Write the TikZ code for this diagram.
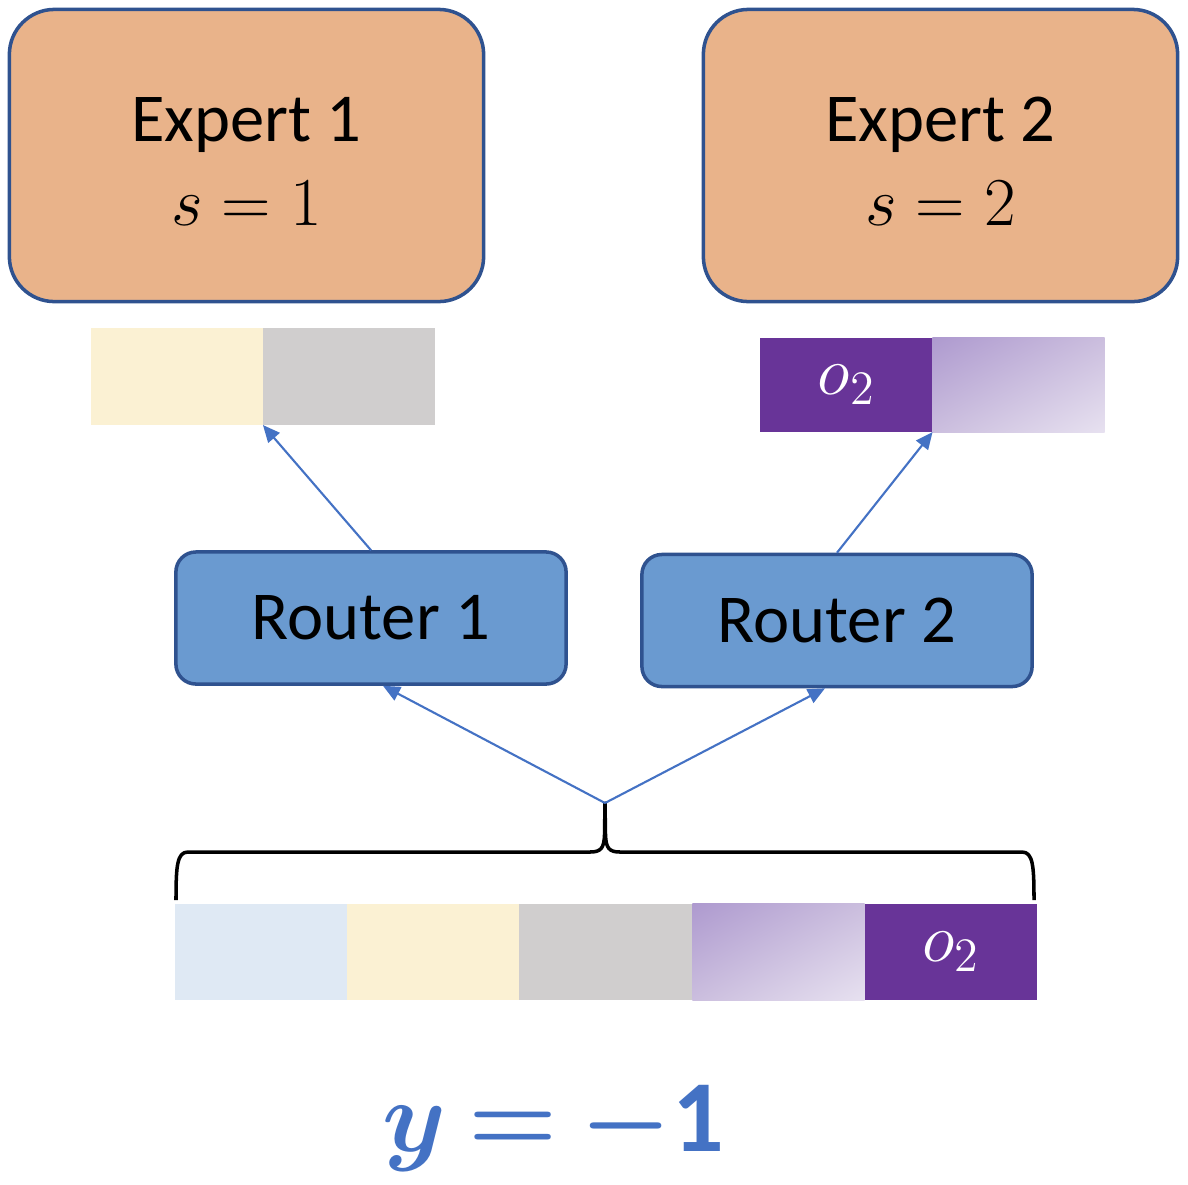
\documentclass[tikz,border=0pt]{standalone}
\usepackage{fix-cm}
\usepackage{amsmath}
\usepackage{fontspec}
\setmainfont{Carlito}
\usetikzlibrary{arrows.meta,positioning,shadings}
\definecolor{expertfill}{RGB}{233,179,138}
\definecolor{edgeblue}{RGB}{47,82,143}
\definecolor{routerfill}{RGB}{106,154,208}
\definecolor{linkblue}{RGB}{68,114,196}
\definecolor{tokblue}{RGB}{223,233,244}
\definecolor{tokcream}{RGB}{251,241,211}
\definecolor{tokgray}{RGB}{208,206,206}
\definecolor{tokpurple}{RGB}{104,52,152}
\definecolor{fadedark}{RGB}{174,154,207}
\definecolor{fademid}{RGB}{203,190,222}
\definecolor{fadelight}{RGB}{231,225,240}

\begin{document}
\begin{tikzpicture}[
            x=0.01cm, y=-0.01cm,
            expert/.style={draw=edgeblue, line width=1pt, fill=expertfill, rounded corners=0.45cm,
                minimum width=4.74cm, minimum height=2.92cm, align=center,
                font=\fontsize{19.5}{22.8}\selectfont},
            router/.style={draw=edgeblue, line width=1pt, fill=routerfill, rounded corners=0.2cm,
                minimum width=3.9cm, minimum height=1.32cm, font=\fontsize{19.5}{23}\selectfont},
            cell/.style={minimum width=1.72cm, minimum height=0.96cm, inner sep=0pt, outer sep=0pt,
                font=\fontsize{19.5}{23}\selectfont},
            fade/.style={cell, shade, upper left=fadedark, upper right=fademid,
                lower left=fademid, lower right=fadelight},
            link/.style={draw=linkblue, line width=0.6pt, -{Triangle[length=0.17cm,width=0.15cm]}},
            result/.style={text=linkblue, font=\fontsize{29}{35}\selectfont}
        ]
            \useasboundingbox (0,0) rectangle (1188,1184);

            \node[expert] (e1) at (246.5,155.5) {\rule{0pt}{0.56cm}Expert 1\\[1pt]$s = 1$};
            \node[expert] (e2) at (940.5,155.5) {\rule{0pt}{0.56cm}Expert 2\\[1pt]$s = 2$};

            \node[cell,fill=tokcream,minimum height=0.97cm] (e1a) at (177,376.5) {};
            \node[cell,fill=tokgray,minimum height=0.97cm]  (e1b) at (349,376.5) {};
            \node[cell,fill=tokpurple,text=white,minimum height=0.94cm] (e2a) at (846.5,385) {$o_2$};
            \node[fade,minimum height=0.94cm] (e2b) at (1018.5,385) {};

            \node[router] (r1) at (371,618) {Router 1};
            \node[router] (r2) at (837,620.5) {Router 2};

            \node[cell,fill=tokblue]   (t1) at (261,952) {};
            \node[cell,fill=tokcream]  (t2) at (433,952) {};
            \node[cell,fill=tokgray]   (t3) at (605.5,952) {};
            \node[fade]                (t4) at (778.5,952) {};
            \node[cell,fill=tokpurple,text=white] (t5) at (951,952) {$o_2$};

            \coordinate (tip) at (605,803);
            \draw[line width=1pt, line join=round]
                (176,900) .. controls (176,866) and (177,852) .. (188,852) -- (590,852)
                .. controls (601,852) and (604,848) .. (604.5,835) -- (tip)
                -- (605.5,835) .. controls (606,848) and (609,852) .. (620,852) -- (1022,852)
                .. controls (1033,852) and (1034,866) .. (1034,900);

            \draw[link] (r1.north) -- (e1b.south west);
            \draw[link] (r2.north) -- (e2a.south east);
            \draw[link] (tip) -- ([xshift=0.12cm]r1.south);
            \draw[link] (tip) -- ([xshift=-0.12cm]r2.south);

            \node[result] (ylabel) at (553,1128) {$\boldsymbol{y} \mathbin{\boldsymbol{=}} \boldsymbol{-}\mathbf{1}$};
        \end{tikzpicture}
\end{document}
